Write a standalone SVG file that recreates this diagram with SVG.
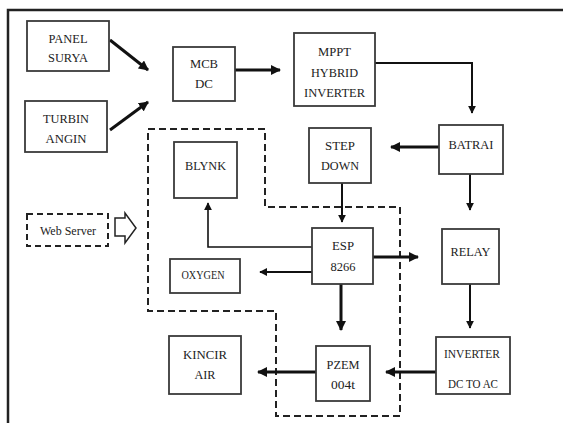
<svg xmlns="http://www.w3.org/2000/svg" width="563" height="423" viewBox="0 0 563 423">
<defs>
<style>
.box{fill:#fff;stroke:#3a3a3a;stroke-width:1.8}
.t{font-family:"Liberation Serif","Times New Roman",serif;font-size:13.5px;fill:#222;text-anchor:middle}
.s{font-size:12px}
.c{fill:none;stroke:#111;stroke-width:3}
.m{stroke-width:2}
.n{stroke-width:1.6}
.dash{fill:none;stroke:#222;stroke-width:2;stroke-dasharray:7,4}
</style>
<marker id="ah" viewBox="0 0 10 10" refX="9" refY="5" markerWidth="10" markerHeight="10" markerUnits="userSpaceOnUse" orient="auto">
<path d="M0,0 L10,5 L0,10 Z" fill="#111"/>
</marker>
<marker id="as" viewBox="0 0 10 10" refX="9" refY="5" markerWidth="8" markerHeight="8" markerUnits="userSpaceOnUse" orient="auto">
<path d="M0,0 L10,5 L0,10 Z" fill="#111"/>
</marker>
</defs>
<rect width="563" height="423" fill="#fff"/>
<path d="M8,423 V10 H563" fill="none" stroke="#222" stroke-width="2.5"/>
<path class="dash" d="M148,129 H265 V207 H400 V416 H276 V311 H148 Z"/>
<g id="connectors">
<path class="c" d="M110,40 L148,70" marker-end="url(#ah)"/>
<path class="c" d="M110,130 L148,102" marker-end="url(#ah)"/>
<path class="c" d="M235,70 H280" marker-end="url(#ah)"/>
<path class="c m" d="M375,63 H472 V113" marker-end="url(#as)"/>
<path class="c" d="M439,147 H391" marker-end="url(#ah)"/>
<path class="c m" d="M470,174 V210" marker-end="url(#as)"/>
<path class="c m" d="M342,183 V222" marker-end="url(#as)"/>
<path class="c n" d="M312,247 H208 V203" marker-end="url(#as)"/>
<path class="c m" d="M312,272 H260" marker-end="url(#as)"/>
<path class="c" d="M373,257 H418" marker-end="url(#ah)"/>
<path class="c" d="M341,284 V330" marker-end="url(#ah)"/>
<path class="c m" d="M470,284 V328" marker-end="url(#as)"/>
<path class="c" d="M436,372 H386" marker-end="url(#ah)"/>
<path class="c" d="M316,372 H258" marker-end="url(#ah)"/>
</g>
<g id="panel"><rect class="box" x="27" y="21" width="82" height="50"/>
<text class="t" x="68" y="43" textLength="39" lengthAdjust="spacingAndGlyphs">PANEL</text>
<text class="t" x="68" y="62" textLength="40" lengthAdjust="spacingAndGlyphs">SURYA</text></g>
<g id="turbin"><rect class="box" x="25" y="101" width="82" height="51"/>
<text class="t" x="66" y="123" textLength="46" lengthAdjust="spacingAndGlyphs">TURBIN</text>
<text class="t" x="66" y="143" textLength="41" lengthAdjust="spacingAndGlyphs">ANGIN</text></g>
<g id="mcb"><rect class="box" x="173" y="47" width="62" height="54"/>
<text class="t" x="204" y="68" textLength="28" lengthAdjust="spacingAndGlyphs">MCB</text>
<text class="t" x="204" y="88" textLength="18" lengthAdjust="spacingAndGlyphs">DC</text></g>
<g id="mppt"><rect class="box" x="294" y="33" width="81" height="73"/>
<text class="t" x="334.5" y="56" textLength="33" lengthAdjust="spacingAndGlyphs">MPPT</text>
<text class="t" x="334.5" y="77" textLength="47" lengthAdjust="spacingAndGlyphs">HYBRID</text>
<text class="t" x="334.5" y="97" textLength="61" lengthAdjust="spacingAndGlyphs">INVERTER</text></g>
<g id="batrai"><rect class="box" x="439" y="125" width="64" height="49"/>
<text class="t" x="471" y="149" textLength="45" lengthAdjust="spacingAndGlyphs">BATRAI</text></g>
<g id="stepdown"><rect class="box" x="309" y="128" width="62" height="55"/>
<text class="t" x="340" y="150" textLength="30" lengthAdjust="spacingAndGlyphs">STEP</text>
<text class="t" x="340" y="170" textLength="38" lengthAdjust="spacingAndGlyphs">DOWN</text></g>
<g id="blynk"><rect class="box" x="174" y="142" width="63" height="56"/>
<text class="t" x="205.5" y="170" textLength="41" lengthAdjust="spacingAndGlyphs">BLYNK</text></g>
<g id="webserver"><rect x="27" y="214" width="81" height="32" fill="none" stroke="#222" stroke-width="2" stroke-dasharray="6,4"/>
<text class="t s" x="68" y="235" textLength="56" lengthAdjust="spacingAndGlyphs">Web Server</text>
<path d="M115,218 H125 V213 L136,228 L125,243 V236 H115 Z" fill="#fff" stroke="#222" stroke-width="1.5" stroke-linejoin="miter"/></g>
<g id="esp"><rect class="box" x="312" y="228" width="61" height="56"/>
<text class="t" x="343" y="250" textLength="22" lengthAdjust="spacingAndGlyphs">ESP</text>
<text class="t" x="343" y="271" textLength="25" lengthAdjust="spacingAndGlyphs">8266</text></g>
<g id="oxygen"><rect class="box" x="170" y="259" width="70" height="34"/>
<text class="t s" x="203" y="279" textLength="43" lengthAdjust="spacingAndGlyphs">OXYGEN</text></g>
<g id="relay"><rect class="box" x="442" y="229" width="57" height="55"/>
<text class="t" x="470.5" y="256" textLength="40" lengthAdjust="spacingAndGlyphs">RELAY</text></g>
<g id="inverter"><rect class="box" x="436" y="337" width="74" height="57"/>
<text class="t" x="472" y="358" textLength="56" lengthAdjust="spacingAndGlyphs">INVERTER</text>
<text class="t" x="473" y="388" textLength="50" lengthAdjust="spacingAndGlyphs">DC TO AC</text></g>
<g id="pzem"><rect class="box" x="316" y="346" width="54" height="55"/>
<text class="t" x="343" y="369" textLength="33" lengthAdjust="spacingAndGlyphs">PZEM</text>
<text class="t" x="343" y="389" textLength="24" lengthAdjust="spacingAndGlyphs">004t</text></g>
<g id="kincir"><rect class="box" x="169" y="336" width="72" height="58"/>
<text class="t" x="205" y="359" textLength="44" lengthAdjust="spacingAndGlyphs">KINCIR</text>
<text class="t" x="205" y="379" textLength="21" lengthAdjust="spacingAndGlyphs">AIR</text></g>
</svg>
